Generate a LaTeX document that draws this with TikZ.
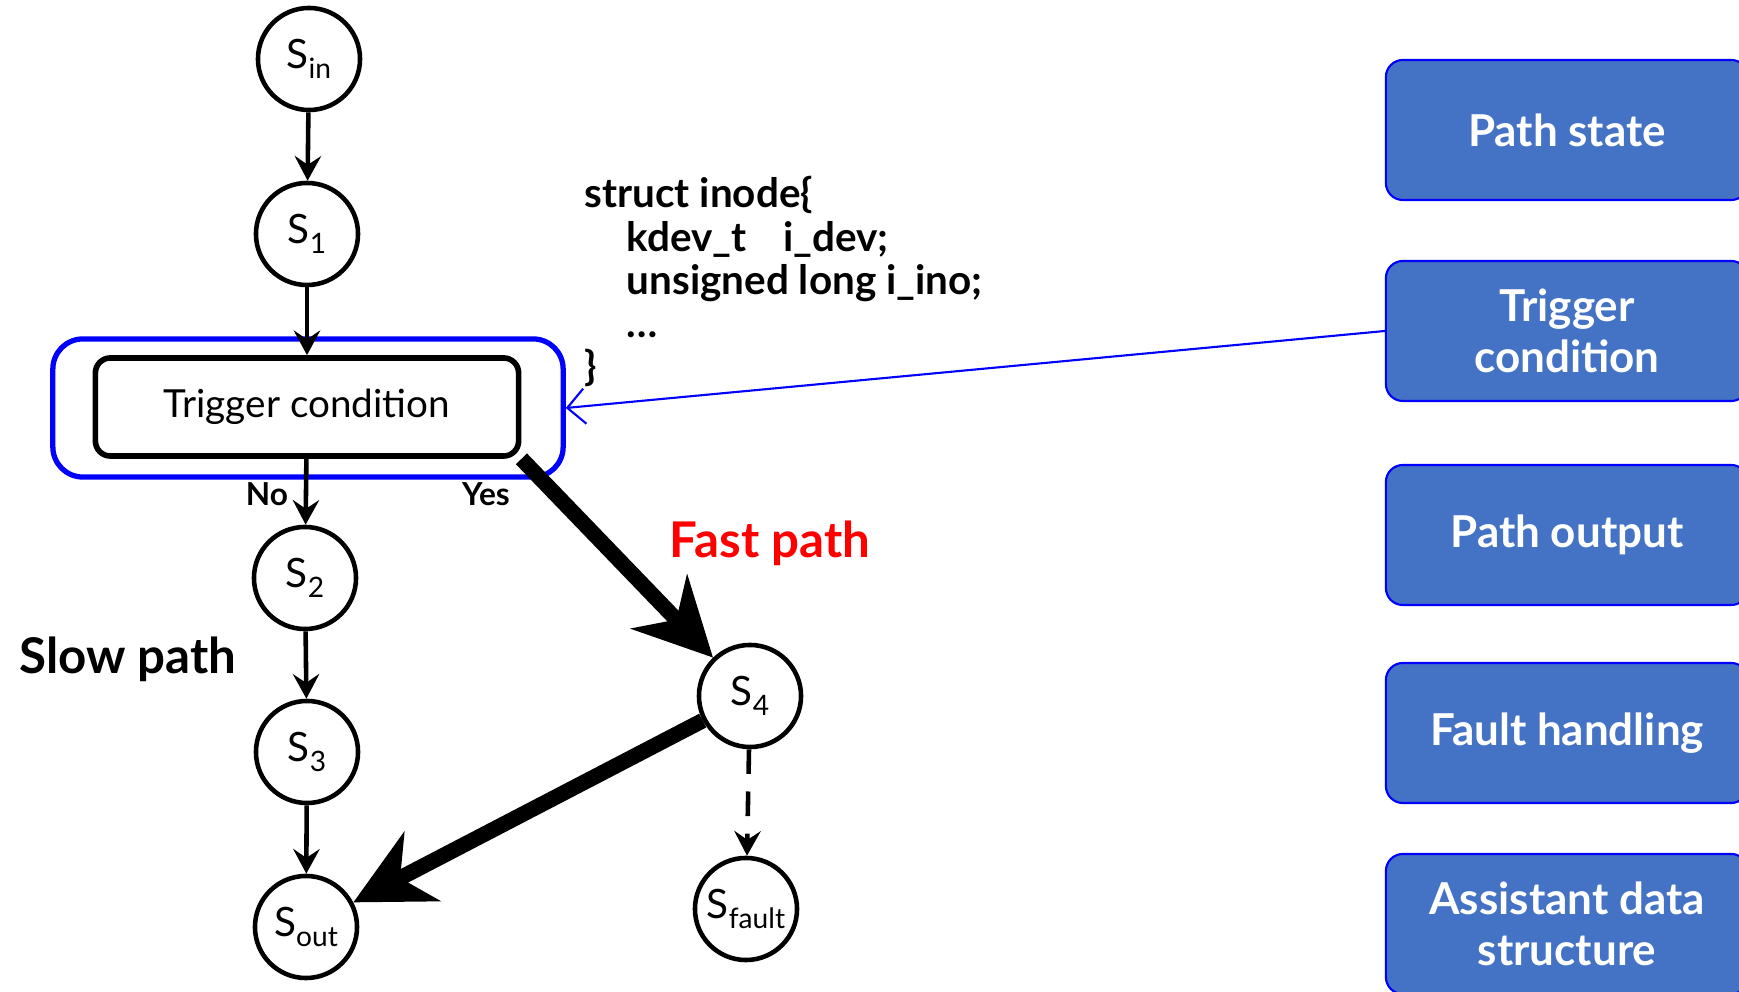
\documentclass[tikz,border=0pt]{standalone}
\usepackage{fontspec}
\setmainfont{Lato}
\usetikzlibrary{arrows.meta}
\definecolor{boxblue}{RGB}{68,114,196}
\newcommand{\Ssub}[1]{S\raisebox{-0.5ex}{\fontsize{8}{9}\selectfont #1}}
\tikzset{
  stnode/.style={circle, draw, line width=1.3pt, minimum size=1.02cm, inner sep=0pt,
    font=\fontsize{11.5}{13}\selectfont},
  flow/.style={line width=1.3pt, -{Stealth[length=7pt,width=7.5pt,inset=2.5pt]}},
  fast/.style={line width=4.4pt, -{Stealth[length=22pt,width=22pt,inset=7pt]}},
  sidebox/.style={rectangle, rounded corners=0.17cm, fill=boxblue, draw=blue, line width=0.6pt,
    minimum width=3.62cm, minimum height=1.4cm, text=white, align=center,
    font=\fontsize{12.5}{14.5}\selectfont\bfseries}
}
\begin{document}
\begin{tikzpicture}[x=0.01cm, y=-0.01cm]
\clip (0,0) rectangle (1739,992);
% slow path
\node[stnode] (sin) at (309,59) {\Ssub{in}};
\node[stnode] (s1) at (307,234) {\Ssub{1}};
\node[draw=blue, line width=1.5pt, rounded corners=0.3cm, minimum width=5.1cm,
      minimum height=1.38cm] (trigframe) at (308,408) {};
\node[draw, line width=1.6pt, rounded corners=0.15cm, minimum width=4.23cm,
      minimum height=0.98cm, font=\fontsize{11}{13}\selectfont] (trig) at (307,407) {Trigger condition};
\node[stnode] (s2) at (305,578) {\Ssub{2}};
\node[stnode] (s3) at (307,752) {\Ssub{3}};
\node[stnode] (sout) at (306,927) {\Ssub{out}};
% fast path
\node[stnode] (s4) at (750,696) {\Ssub{4}};
\node[stnode] (sfault) at (746,909) {\Ssub{fault}};

\node[font=\fontsize{9}{11}\selectfont\bfseries] (no) at (267,494) {No};
\node[font=\fontsize{9}{11}\selectfont\bfseries] (yes) at (486,494) {Yes};
\node[font=\fontsize{14}{16}\selectfont\bfseries] (slow) at (128,659) {Slow path};
\node[font=\fontsize{14}{16}\selectfont\bfseries, text=red] (fastlbl) at (770,543) {Fast path};

% code
\node[anchor=north west, align=left, inner sep=0pt, font=\fontsize{11.5}{12.3}\selectfont\bfseries]
  (code) at (584,176) {struct inode\{\\
  \hspace*{0.42cm}kdev\_t\hspace{0.9em}i\_dev;\\
  \hspace*{0.42cm}unsigned long i\_ino;\\
  \hspace*{0.42cm}\dots\\
  \}};

% side boxes
\node[sidebox] (pstate) at (1567,130) {Path state};
\node[sidebox] (ptrig) at (1567,331) {Trigger\\condition};
\node[sidebox] (pout) at (1567,535) {Path output};
\node[sidebox] (pfault) at (1567,733) {Fault handling};
\node[sidebox] (passist) at (1567,924) {Assistant data\\structure};

\draw[flow] (sin) -- (s1);
\draw[flow] (s1) -- (trig);
\draw[flow] (trig) -- (s2);
\draw[flow] (s2) -- (s3);
\draw[flow] (s3) -- (sout);
\draw[fast] (trig.south east) -- (s4);
\draw[fast] (s4) -- (sout);
\draw[flow, dash pattern=on 7pt off 5pt] (s4) -- (sfault);
\draw[blue, line width=0.6pt, -{Straight Barb[length=5pt,width=10pt]}] (ptrig.west) -- (trigframe.east);
\end{tikzpicture}
\end{document}
